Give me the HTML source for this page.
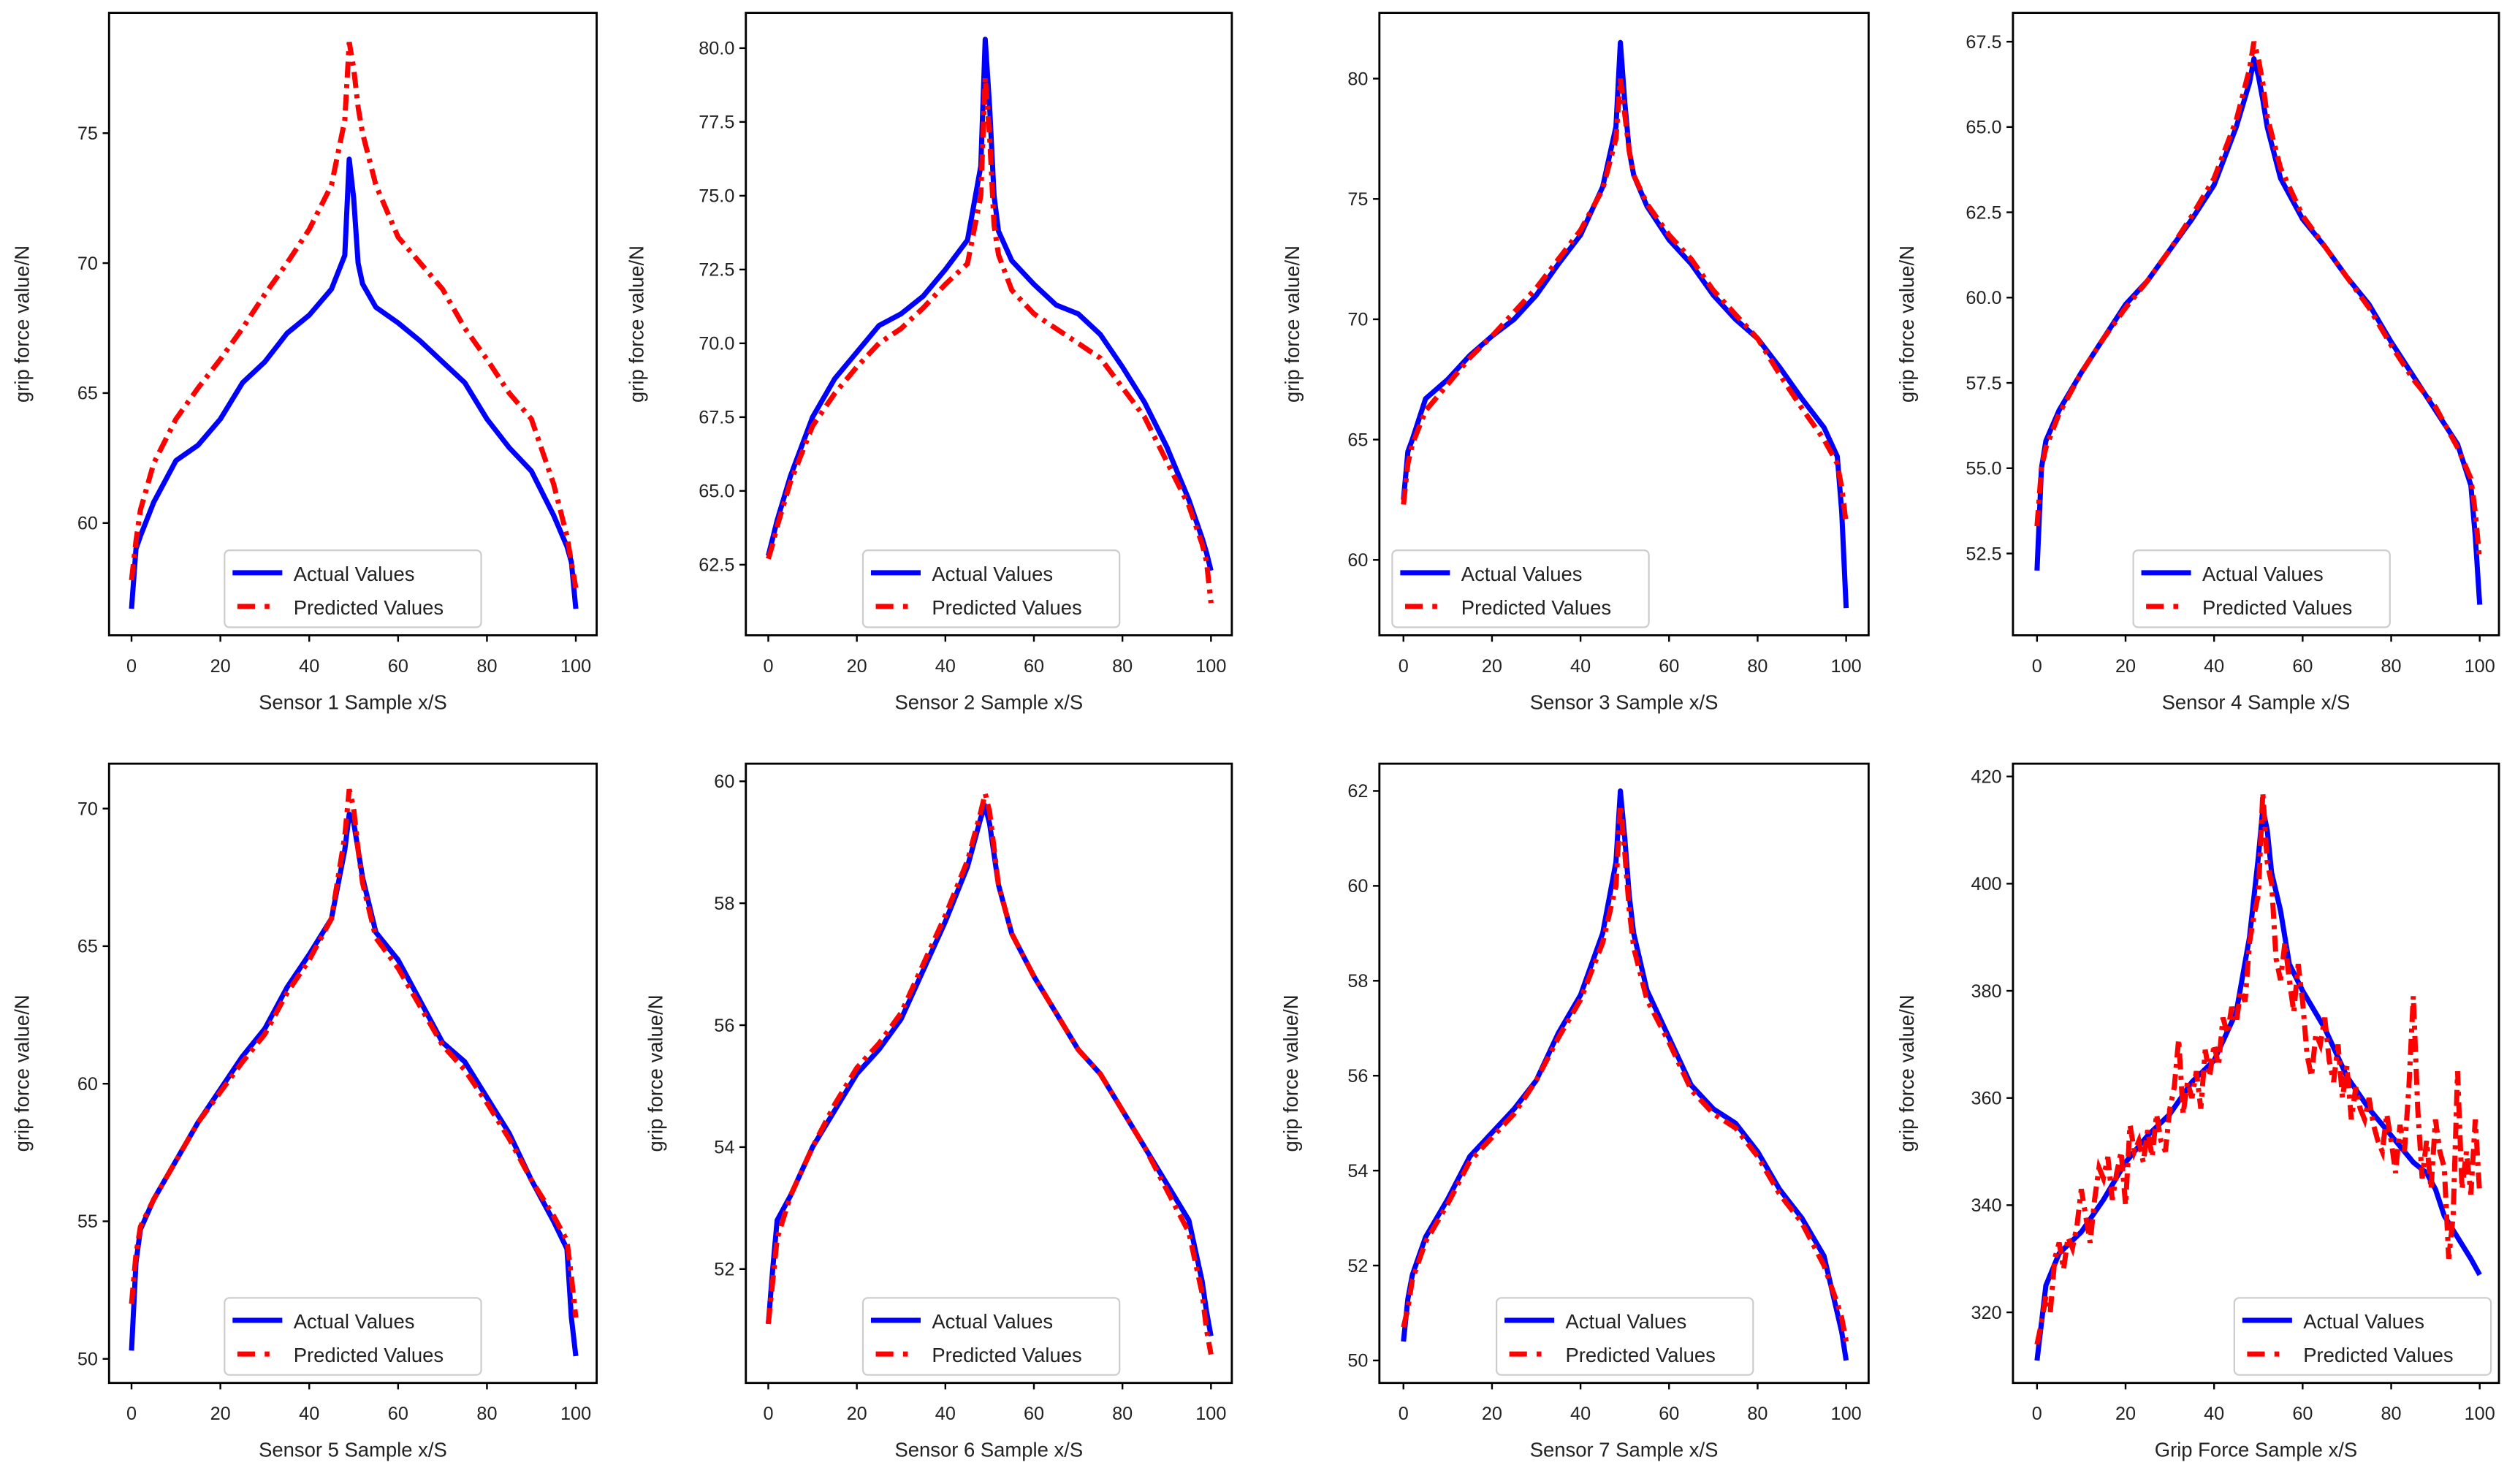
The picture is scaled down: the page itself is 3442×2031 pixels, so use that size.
<!DOCTYPE html>
<html><head><meta charset="utf-8"><title>Grip force predictions</title>
<style>html,body{margin:0;padding:0;background:#fff;}svg{display:block;font-family:"Liberation Sans","DejaVu Sans",sans-serif;}</style>
</head><body>
<svg id="fig" width="3442" height="2031" viewBox="0 0 1568 925" preserveAspectRatio="none" xmlns="http://www.w3.org/2000/svg"></svg>
<script>
const xs = [0,1,2,5,10,15,20,25,30,35,40,45,48,49,50,51,52,55,60,65,70,75,80,85,90,95,98,99,100];
const s1Actual = [56.7,59,59.5,60.8,62.4,63,64,65.4,66.2,67.3,68,69,70.3,74,72.5,70,69.2,68.3,67.7,67,66.2,65.4,64,62.9,62,60.3,59.1,58.5,56.7];
const s1Pred = [57.8,59.3,60.5,62.3,64,65.2,66.3,67.5,68.8,70,71.3,73,75.5,78.5,77.5,76,75,73,71,70,69,67.5,66.3,65,64,61.5,59.5,58.5,57.5];
const s2Actual = [62.8,63.4,64,65.5,67.5,68.8,69.7,70.6,71,71.6,72.5,73.5,76,80.3,78,75,73.8,72.8,72,71.3,71,70.3,69.2,68,66.5,64.7,63.4,62.9,62.3];
const s2Pred = [62.7,63.2,63.8,65.3,67.2,68.3,69.2,70,70.5,71.2,72,72.7,75,79,77,74,73,71.8,71,70.5,70,69.5,68.5,67.5,66,64.5,63.2,62.6,61.2];
const s3Actual = [62.5,64.5,65,66.7,67.5,68.5,69.3,70,71,72.3,73.5,75.5,78,81.5,79,77,76,74.7,73.3,72.3,71,70,69.2,68,66.7,65.5,64.3,62,58];
const s3Pred = [62.3,64,64.8,66.2,67.3,68.4,69.3,70.3,71.3,72.5,73.7,75.4,77.5,80,78.5,77,76,74.8,73.5,72.5,71.2,70.2,69.2,67.7,66.3,65,64,63,61.5];
const s4Actual = [52,55,55.8,56.7,57.8,58.8,59.8,60.5,61.4,62.3,63.3,65,66.3,67,66.5,65.8,65,63.5,62.3,61.5,60.6,59.8,58.7,57.7,56.7,55.7,54.5,53,51];
const s4Pred = [53.3,55,55.6,56.6,57.8,58.8,59.7,60.5,61.4,62.4,63.5,65.2,66.7,67.5,67,66.3,65.3,63.8,62.4,61.5,60.6,59.7,58.6,57.6,56.8,55.6,54.7,53.7,52.3];
const s5Actual = [50.3,53.5,54.7,55.8,57.2,58.6,59.8,61,62,63.5,64.7,66,68.5,69.8,69.5,68.5,67.5,65.5,64.5,63,61.5,60.8,59.5,58.2,56.5,55,54,51.5,50.1];
const s5Pred = [52,53.8,54.8,55.8,57.2,58.6,59.7,60.8,61.8,63.3,64.5,66,69,70.7,70,68.5,67.3,65.3,64.2,62.8,61.4,60.5,59.3,58,56.5,55.2,54.3,53,51.5];
const s6Actual = [51.1,52,52.8,53.2,54,54.6,55.2,55.6,56.1,56.9,57.7,58.6,59.4,59.6,59.3,58.8,58.3,57.5,56.8,56.2,55.6,55.2,54.6,54,53.4,52.8,51.8,51.3,50.9];
const s6Pred = [51.1,51.8,52.5,53.2,54,54.7,55.3,55.7,56.2,57,57.8,58.7,59.5,59.8,59.5,58.9,58.3,57.5,56.8,56.2,55.6,55.2,54.6,54,53.3,52.6,51.6,51,50.6];
const s7Actual = [50.4,51.3,51.8,52.6,53.4,54.3,54.8,55.3,55.9,56.9,57.7,59,60.5,62,61,59.8,59,57.8,56.8,55.8,55.3,55,54.4,53.6,53,52.2,51,50.6,50];
const s7Pred = [50.7,51.1,51.7,52.5,53.3,54.2,54.7,55.2,55.9,56.8,57.6,58.8,60,61.7,60.7,59.5,58.7,57.6,56.7,55.7,55.2,54.9,54.3,53.5,52.9,52,51.2,50.9,50.4];
const gfX = [0,2,5,10,15,20,25,30,35,40,45,48,50,51,52,53,55,57,60,65,70,75,80,85,88,90,92,95,98,100];
const gfActual = [311,325,331,335,341,348,353,357,363,367,376,390,405,414,410,402,395,385,380,373,364,358,353,348,346,343,338,334,330,327];
const gfPred = [314,318,323,320,330,333,328,334,332,336,343,338,333,341,347,345,349,341,346,350,340,355,350,352,348,354,349,357,352,350,358,362,371,357,363,360,365,358,369,364,370,366,375,372,377,374,380,378,389,394,398,417,404,400,386,382,389,382,376,385,378,368,364,372,370,375,367,363,370,360,366,356,362,358,356,360,355,352,350,357,352,346,355,350,362,379,358,345,352,343,356,350,347,330,338,365,343,350,342,356,342];
const xTicks = [0,20,40,60,80,100];
const yTicks1 = [60,65,70,75];
const yTicks2 = [62.5,65,67.5,70,72.5,75,77.5,80];
const yTicks3 = [60,65,70,75,80];
const yTicks4 = [52.5,55,57.5,60,62.5,65,67.5];
const yTicks5 = [50,55,60,65,70];
const yTicks6 = [52,54,56,58,60];
const yTicks7 = [50,52,54,56,58,60,62];
const yTicks8 = [320,340,360,380,400,420];
const xTitles = ["Sensor 1 Sample x/S","Sensor 2 Sample x/S","Sensor 3 Sample x/S","Sensor 4 Sample x/S","Sensor 5 Sample x/S","Sensor 6 Sample x/S","Sensor 7 Sample x/S","Grip Force Sample x/S"];

const NS="http://www.w3.org/2000/svg";
const svg=document.getElementById('fig');
function mk(tag,attrs,parent){const e=document.createElementNS(NS,tag);for(const k in attrs)e.setAttribute(k,attrs[k]);(parent||svg).appendChild(e);return e;}

const colBox=[[68,372,82,359],[465,768,479,755],[860,1165,875,1151],[1255,1558,1270,1546]];
const rowBox=[[8,396],[476,862]];
// y calibration: [v1,py1,v2,py2], legend x, ticks decimals, ytitle x
const plots=[
 {r:0,c:0,cal:[75,83,60,326],ticks:yTicks1,dec:0,ax:xs,a:s1Actual,p:s1Pred,lx:140,yt:18},
 {r:0,c:1,cal:[80,30,62.5,352],ticks:yTicks2,dec:1,ax:xs,a:s2Actual,p:s2Pred,lx:538,yt:401},
 {r:0,c:2,cal:[80,49,60,349],ticks:yTicks3,dec:0,ax:xs,a:s3Actual,p:s3Pred,lx:868,yt:810},
 {r:0,c:3,cal:[67.5,26,52.5,345],ticks:yTicks4,dec:1,ax:xs,a:s4Actual,p:s4Pred,lx:1330,yt:1193},
 {r:1,c:0,cal:[70,504,50,847],ticks:yTicks5,dec:0,ax:xs,a:s5Actual,p:s5Pred,lx:140,yt:18},
 {r:1,c:1,cal:[60,487,52,791],ticks:yTicks6,dec:0,ax:xs,a:s6Actual,p:s6Pred,lx:538,yt:413},
 {r:1,c:2,cal:[62,493,50,848],ticks:yTicks7,dec:0,ax:xs,a:s7Actual,p:s7Pred,lx:933,yt:809},
 {r:1,c:3,cal:[420,484,320,818],ticks:yTicks8,dec:0,ax:gfX,a:gfActual,p:gfPred,px:gfPred.map((_,i)=>i),lx:1393,yt:1193}
];
plots.forEach((P,i)=>{
  const [bx0,bx1,tx0,tx100]=colBox[P.c]; const [by0,by1]=rowBox[P.r];
  const X=v=>tx0+(v/100)*(tx100-tx0);
  const [v1,p1,v2,p2]=P.cal; const Y=v=>p1+(v-v1)*(p2-p1)/(v2-v1);
  const g=mk('g',{});
  
  
  const clipId='clip'+i;
  const cp=mk('clipPath',{id:clipId},g); mk('rect',{x:bx0,y:by0,width:bx1-bx0,height:by1-by0},cp);
  const lines=mk('g',{'clip-path':'url(#'+clipId+')'},g);
  const pa=P.a.map((v,k)=>X(P.ax[k]).toFixed(2)+','+Y(v).toFixed(2)).join(' ');
  const la=mk('polyline',{points:pa,fill:'none',stroke:'#0000ff','stroke-width':3.2,'stroke-linejoin':'round'},lines);
  
  
  const pxs=P.px||P.ax;
  const pp=P.p.map((v,k)=>X(pxs[k]).toFixed(2)+','+Y(v).toFixed(2)).join(' ');
  const lp=mk('polyline',{points:pp,fill:'none',stroke:'#ff0000','stroke-width':3.2,'stroke-dasharray':'10,4,2.5,4'},lines);
  
  
  mk('rect',{x:bx0,y:by0,width:bx1-bx0,height:by1-by0,fill:'none',stroke:'#000','stroke-width':1.3},g);
  xTicks.forEach(t=>{
    mk('line',{x1:X(t),x2:X(t),y1:by1,y2:by1+4,stroke:'#000','stroke-width':1.1},g);
    const tl=mk('text',{x:X(t),y:by1+23,'font-size':11.5,'text-anchor':'middle',fill:'#222'},g);
    tl.textContent=t;
    
    
  });
  P.ticks.forEach(t=>{
    mk('line',{x1:bx0-4,x2:bx0,y1:Y(t),y2:Y(t),stroke:'#000','stroke-width':1.1},g);
    const tl=mk('text',{x:bx0-7,y:Y(t)+4,'font-size':11.5,'text-anchor':'end',fill:'#222'},g);
    tl.textContent=t.toFixed(P.dec);
    
    
  });
  const xt=mk('text',{x:(bx0+bx1)/2,y:by1+46,'font-size':12.5,'text-anchor':'middle',fill:'#222'},g);
  xt.textContent=xTitles[i];
  
  
  const cy=(by0+by1)/2;
  const yt=mk('text',{x:P.yt,y:cy,'font-size':12.5,'text-anchor':'middle',fill:'#222',transform:'rotate(-90 '+P.yt+' '+cy+')'},g);
  yt.textContent='grip force value/N';
  
  
  const ly=by1-53;
  const lg=mk('g',{},g);
  
  
  mk('rect',{x:P.lx,y:ly,width:160,height:48,rx:3,fill:'#fff','fill-opacity':0.85,stroke:'#ccc','stroke-width':1},lg);
  mk('line',{x1:P.lx+5,x2:P.lx+36,y1:ly+14,y2:ly+14,stroke:'#0000ff','stroke-width':3.2},lg);
  mk('line',{x1:P.lx+8,x2:P.lx+36,y1:ly+35,y2:ly+35,stroke:'#ff0000','stroke-width':3.2,'stroke-dasharray':'11,6,3,40'},lg);
  const t1=mk('text',{x:P.lx+43,y:ly+19,'font-size':12.5,fill:'#222'},lg); t1.textContent='Actual Values';
  
  
  const t2=mk('text',{x:P.lx+43,y:ly+40,'font-size':12.5,fill:'#222'},lg); t2.textContent='Predicted Values';
  
  
});
</script>
</body></html>
